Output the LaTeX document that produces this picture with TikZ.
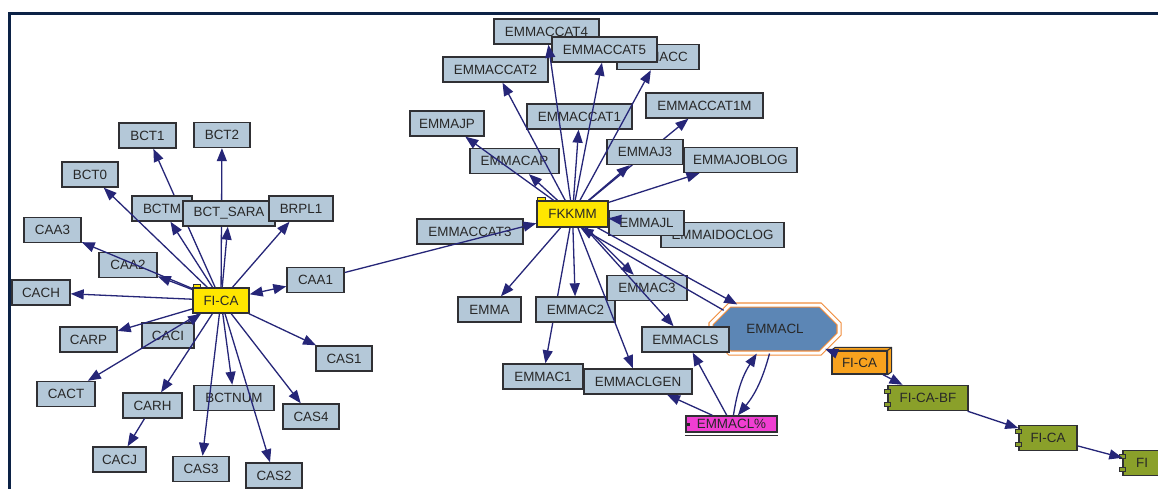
\documentclass[tikz,border=0pt]{standalone}
\usepackage{fontspec}
\setmainfont{Liberation Sans}
\usetikzlibrary{arrows.meta,shapes.misc,calc}
\definecolor{boxfill}{RGB}{180,200,216}
\definecolor{boxline}{RGB}{48,48,52}
\definecolor{edgecol}{RGB}{38,38,120}
\definecolor{txtcol}{RGB}{40,40,40}
\definecolor{yel}{RGB}{255,230,0}
\definecolor{orn}{RGB}{248,162,30}
\definecolor{grn}{RGB}{138,160,42}
\definecolor{mag}{RGB}{240,62,210}
\definecolor{octfill}{RGB}{92,134,181}
\definecolor{octline}{RGB}{240,140,60}
\definecolor{framecol}{RGB}{12,34,70}
\pgfdeclarelayer{bg}
\pgfsetlayers{bg,main}
\newcommand\dgfont{\fontsize{13.4}{15}\selectfont}
\newcommand\comptabs[1]{%
  \draw[tabst] ([shift={(-3pt,-5pt)}]#1.north west) rectangle ([shift={(3pt,-9pt)}]#1.north west);
  \draw[tabst] ([shift={(-3pt,5pt)}]#1.south west) rectangle ([shift={(3pt,9pt)}]#1.south west);}
\begin{document}
\begin{tikzpicture}[x=1pt,y=-1pt,
  box/.style={draw=boxline, fill=boxfill, line width=1.4pt, inner sep=0pt, minimum height=25pt, text=txtcol, font=\dgfont},
  ybox/.style={box, fill=yel},
  gbox/.style={box, fill=grn},
  edge/.style={draw=edgecol, line width=1.3pt, -{Triangle[length=13pt,width=10pt]}},
  dedge/.style={draw=edgecol, line width=1.3pt, {Triangle[length=13pt,width=10pt]}-{Triangle[length=13pt,width=10pt]}},
  tabst/.style={draw=boxline, fill=grn, line width=0.8pt},
]
\begin{pgfonlayer}{bg}
\fill[white] (0,0) rectangle (1158,489);
\end{pgfonlayer}
\useasboundingbox (0,0) rectangle (1158,489);
\draw[framecol, line width=2.6pt] (1162,13.3) -- (9.7,13.3) -- (9.7,493);

% ---- left cluster
\node[box, minimum width=57pt] (bct1) at (147.5,135.5) {BCT1};
\node[box, minimum width=56pt] (bct2) at (222,135) {BCT2};
\node[box, minimum width=56pt] (bct0) at (90,174.5) {BCT0};
\node[box, minimum width=60pt] (bctm) at (162,208.5) {BCTM};
\node[box, minimum width=92pt] (bctsara) at (229,213.5) {BCT\_SARA};
\node[box, minimum width=64pt] (brpl1) at (301,208.5) {BRPL1};
\node[box, minimum width=57pt] (caa3) at (52.5,230) {CAA3};
\node[box, minimum width=58pt] (caa2) at (128,265) {CAA2};
\node[box, minimum width=57pt] (caa1) at (315.5,280) {CAA1};
\node[box, minimum width=58pt] (cach) at (41,292.5) {CACH};
\node[ybox, minimum width=56pt] (fica) at (221,300.5) {FI-CA};
\draw[tabst, fill=yel] ([xshift=1pt]fica.north west) rectangle ([xshift=8pt,yshift=3pt]fica.north west);
\node[box, minimum width=57pt] (carp) at (88.5,339.5) {CARP};
\node[box, minimum width=52pt] (caci) at (168,335.5) {CACI};
\node[box, minimum width=56pt] (cas1) at (344,358.5) {CAS1};
\node[box, minimum width=58pt] (cact) at (66,394) {CACT};
\node[box, minimum width=59pt] (carh) at (152.5,405.5) {CARH};
\node[box, minimum width=80pt] (bctnum) at (234,398) {BCTNUM};
\node[box, minimum width=56pt] (cas4) at (311,416.5) {CAS4};
\node[box, minimum width=53pt] (cacj) at (119.5,459.5) {CACJ};
\node[box, minimum width=56pt] (cas3) at (201,469) {CAS3};
\node[box, minimum width=56pt] (cas2) at (274,475.5) {CAS2};

% ---- right cluster
\node[box, minimum width=105pt] (emmaccat4) at (546.5,31.5) {EMMACCAT4};
\node[box, minimum width=82pt] (emmacc) at (658,57) {EMMACC};
\node[box, minimum width=105pt] (emmaccat5) at (604.5,49.5) {EMMACCAT5};
\node[box, minimum width=105pt] (emmaccat2) at (495.5,69.5) {EMMACCAT2};
\node[box, minimum width=117pt] (emmaccat1m) at (704.5,105.5) {EMMACCAT1M};
\node[box, minimum width=74pt] (emmajp) at (447,123.5) {EMMAJP};
\node[box, minimum width=105pt] (emmaccat1) at (579.5,116.5) {EMMACCAT1};
\node[box, minimum width=89pt] (emmacap) at (514.5,161) {EMMACAP};
\node[box, minimum width=76pt] (emmaj3) at (645,152) {EMMAJ3};
\node[box, minimum width=113pt] (emmajoblog) at (740.5,160) {EMMAJOBLOG};
\node[box, minimum width=106pt] (emmaccat3) at (470,231.5) {EMMACCAT3};
\node[ybox, minimum width=71pt, minimum height=26pt] (fkkmm) at (572.5,214) {FKKMM};
\draw[tabst, fill=yel] ([xshift=1pt]fkkmm.north west) rectangle ([xshift=9pt,yshift=3pt]fkkmm.north west);
\node[box, minimum width=123pt] (emmaidoclog) at (722.5,235) {EMMAIDOCLOG};
\node[box, minimum width=75pt] (emmajl) at (646.5,223) {EMMAJL};
\node[box, minimum width=63pt] (emma) at (489.5,309.5) {EMMA};
\node[box, minimum width=79pt] (emmac2) at (575.5,309.5) {EMMAC2};
\node[box, minimum width=80pt] (emmac3) at (647,288) {EMMAC3};
\node[chamfered rectangle, chamfered rectangle xsep=24pt, chamfered rectangle ysep=14pt,
      minimum width=128pt, minimum height=48pt, inner sep=0pt,
      fill=octfill, draw=octline, double=white, double distance=3pt, line width=1.1pt,
      text=txtcol, font=\dgfont] (emmacl) at (775,329) {EMMACL};
\node[box, minimum width=87pt] (emmacls) at (685.5,339.5) {EMMACLS};
\node[box, minimum width=80pt] (emmac1) at (543,376.5) {EMMAC1};
\node[box, minimum width=108pt] (emmaclgen) at (638,381.5) {EMMACLGEN};
\node[box, fill=mag, minimum width=91pt, minimum height=16pt] (emmaclpct) at (731.5,424) {EMMACL\%};
\fill[txtcol] ([xshift=2pt,yshift=-1.5pt]emmaclpct.west) rectangle ([xshift=5pt,yshift=1.5pt]emmaclpct.west);
\draw[boxline, line width=1pt] ([yshift=-2.6pt]emmaclpct.south west) -- ([yshift=-2.6pt]emmaclpct.south east);

\node[box, fill=orn, minimum width=55pt, minimum height=23pt] (ficao) at (859.5,362.5) {FI-CA};
\draw[boxline, fill=orn, line width=1pt, line join=round] (ficao.north west) -- ([shift={(4pt,3pt)}]ficao.north west) -- ([shift={(4pt,3pt)}]ficao.north east) -- ([shift={(4pt,3pt)}]ficao.south east) -- (ficao.south east) -- (ficao.north east) -- cycle;
\draw[boxline, line width=1pt] (ficao.north east) -- ([shift={(4pt,3pt)}]ficao.north east);
\node[gbox, minimum width=80pt] (ficabf) at (928,398) {FI-CA-BF};
\comptabs{ficabf}
\node[gbox, minimum width=58pt] (ficag) at (1048,438) {FI-CA};
\comptabs{ficag}
\node[gbox, minimum width=38pt] (fi) at (1142,463) {FI};
\comptabs{fi}

% ---- connectors behind boxes
\begin{pgfonlayer}{bg}
\draw[edge] (fica) -- (bct1);
\draw[edge] (fica) -- (bct2);
\draw[edge] (fkkmm) -- (emmaccat1m);
\draw[edge] (fkkmm) -- (emmac1);
\end{pgfonlayer}

% ---- connectors
\foreach \t in {bct0,bctm,bctsara,brpl1,caa3,caa2,cach,carp,cact,carh,bctnum,cas1,cas4,cas3,cas2}
  \draw[edge] (fica) -- (\t);
\draw[edge] (caci) -- (fica);
\draw[edge] (carh) -- (cacj);
\draw[dedge] (fica) -- (caa1);
\draw[edge] (caa1) -- (fkkmm);
\foreach \t in {emmaccat4,emmaccat5,emmacc,emmaccat2,emmajp,emmaccat1,emmacap,emmaj3,emmajoblog,emmajl,emma,emmac2,emmac3,emmacls,emmaclgen}
  \draw[edge] (fkkmm) -- (\t);
\draw[edge] (fkkmm) -- (emmacl.147);
\draw[edge] (emmacl.160) -- (fkkmm.-60);
\draw[edge] (emmaclpct) -- (emmaclgen);
\draw[edge] (emmaclpct) -- (emmacls);
\draw[edge] (emmaclpct) to[bend left=12] (emmacl);
\draw[edge] (emmacl) to[bend left=12] (emmaclpct);
\draw[edge] (ficao) -- (emmacl);
\draw[edge] (ficao) -- (ficabf);
\draw[edge] (ficabf) -- (ficag);
\draw[edge] (ficag) -- (fi);
\end{tikzpicture}
\end{document}
